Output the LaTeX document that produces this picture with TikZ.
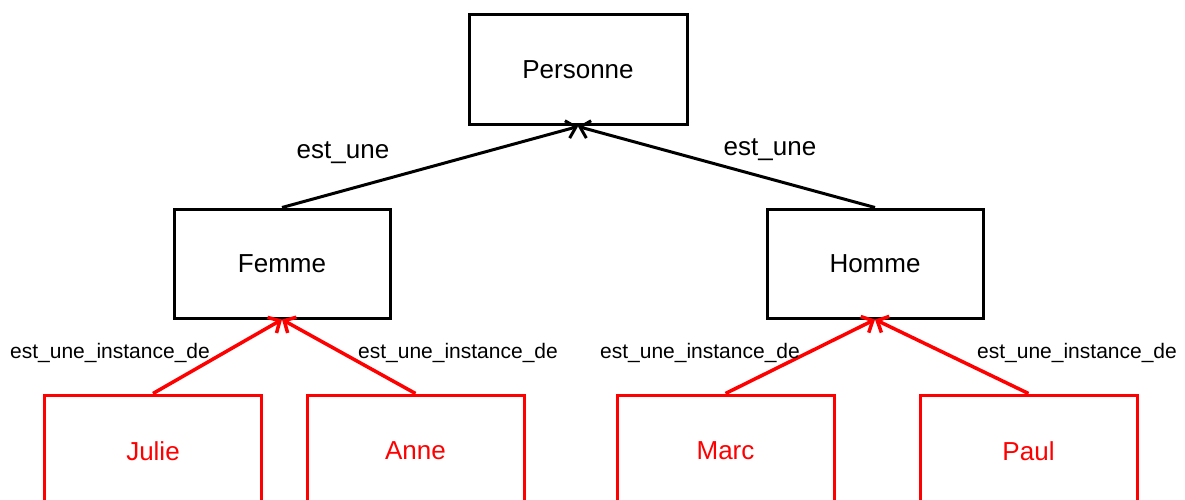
\documentclass[tikz,border=0pt]{standalone}
\usepackage{fontspec}
\setmainfont{Liberation Sans}
\usetikzlibrary{arrows.meta}
\begin{document}
\begin{tikzpicture}[x=1pt,y=-1pt,
  classbox/.style={draw=black, line width=3pt, minimum width=216pt, minimum height=109pt, inner sep=0pt, font=\fontsize{26}{30}\selectfont},
  instbox/.style={draw=red, line width=3pt, minimum width=217pt, minimum height=112pt, inner sep=0pt, text=red, font=\fontsize{26}{30}\selectfont},
  isa/.style={draw=black, line width=3pt, -{Straight Barb[length=9pt,width=18pt,line width=3pt]}},
  inst/.style={draw=red, line width=3.5pt, -{Straight Barb[length=9pt,width=18pt,line width=3.5pt]}},
  lbl/.style={font=\fontsize{26}{30}\selectfont, inner sep=0pt},
  ilbl/.style={font=\fontsize{21}{25}\selectfont, inner sep=0pt}]
\useasboundingbox (0,0) rectangle (1185,500);
\begin{scope}
\clip (0,0) rectangle (1185,500);
\node[classbox, minimum width=218pt, minimum height=110pt] (personne) at (578,70) {Personne};
\node[classbox] (femme) at (282,263.5) {Femme};
\node[classbox] (homme) at (875,263.5) {Homme};
\node[instbox] (julie) at (153,451) {Julie};
\node[instbox] (anne) at (415.5,451) {Anne};
\node[instbox] (marc) at (725.5,451) {Marc};
\node[instbox] (paul) at (1028.5,451) {Paul};

\draw[isa] (femme.north) -- (personne.south);
\draw[isa] (homme.north) -- (personne.south);
\draw[inst] (julie.north) -- (femme.south);
\draw[inst] (anne.north) -- (femme.south);
\draw[inst] (marc.north) -- (homme.south);
\draw[inst] (paul.north) -- (homme.south);

\node[lbl] (l1) at (343,153) {est\_une};
\node[lbl] (l2) at (770,150) {est\_une};
\node[ilbl] (l3) at (110,353) {est\_une\_instance\_de};
\node[ilbl] (l4) at (458,353) {est\_une\_instance\_de};
\node[ilbl] (l5) at (700,353) {est\_une\_instance\_de};
\node[ilbl] (l6) at (1077,353) {est\_une\_instance\_de};
\end{scope}
\end{tikzpicture}
\end{document}
